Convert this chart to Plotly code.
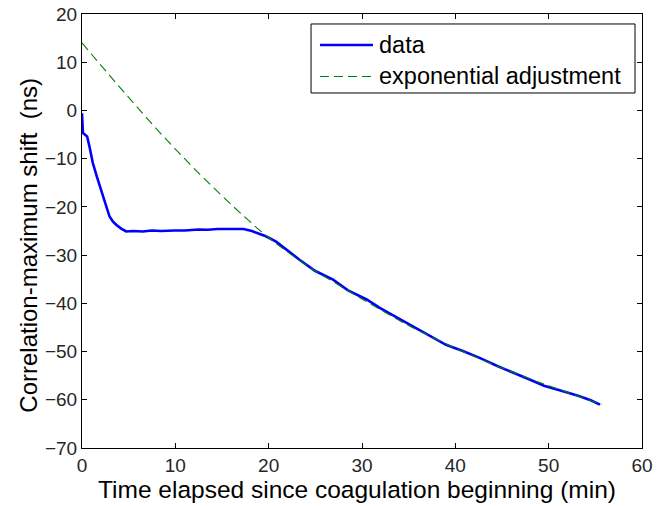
import plotly.graph_objects as go

# Blue measured data (time in min, shift in ns)
data_t = [0, 0.05, 0.1, 0.3, 0.55, 0.8, 1.16, 1.6, 2.05, 2.5, 2.95, 3.3, 3.66, 4.2, 4.73,
          5.5, 6.5, 7.5, 8.5, 9.9, 11, 12.5, 13.5, 14.5, 15.3, 16.5, 17.3, 18.2, 19.0, 19.7,
          20.8, 22, 23.3, 25, 26.9, 28.5, 30.5, 31.9, 33.8, 35.5, 37.2, 39, 40.8, 42.6,
          44.5, 46.3, 47.96, 49.5, 50.5, 52, 53.3, 54.5, 55.5]
data_y = [-0.6, -3.0, -4.7, -5.0, -5.4, -7.5, -10.9, -13.8, -16.5, -19.3, -22.0, -23.0, -23.7, -24.5, -25.1,
          -25.0, -25.1, -24.9, -25.0, -24.9, -24.9, -24.7, -24.75, -24.6, -24.6, -24.5, -24.6, -25.0, -25.6, -26.1,
          -27.2, -29.0, -30.95, -33.3, -35.1, -37.3, -39.2, -40.95, -43.0, -44.9, -46.8, -48.6, -49.9, -51.3,
          -53.0, -54.4, -55.8, -57.1, -57.6, -58.5, -59.25, -60.1, -61.0]

# Green dashed exponential adjustment
fit_t = [0, 2.5, 5, 7.5, 10, 12.5, 15, 17.5, 20, 22.5, 25, 27.5, 30, 32.5, 35, 37.5,
         40, 42.5, 45, 47.5, 50, 52.5, 55.7]
fit_y = [14, 8.3, 2.7, -2.8, -8.0, -13.0, -17.7, -22.2, -26.4, -30.0, -33.3, -36.2, -39.1, -41.9,
         -44.6, -47.0, -49.3, -51.4, -53.4, -55.3, -57.1, -58.8, -61.0]

x_ticks = [0, 10, 20, 30, 40, 50, 60]
y_ticks = [20, 10, 0, -10, -20, -30, -40, -50, -60, -70]

series_names = ["data", "exponential adjustment"]
series_colors = ["#0000ff", "#008000"]
x_title = "Time elapsed since coagulation beginning (min)"
y_title = "Correlation-maximum shift  (ns)"

FONT = "Liberation Sans, Arial, sans-serif"

fig = go.Figure()
fig.add_trace(go.Scatter(x=data_t, y=data_y, mode="lines", name=series_names[0],
                         line=dict(color=series_colors[0], width=2.6), showlegend=False))
fig.add_trace(go.Scatter(x=fit_t, y=fit_y, mode="lines", name=series_names[1],
                         line=dict(color=series_colors[1], width=1.1, dash="9px,5px"),
                         line_shape="spline", showlegend=False))

axis_common = dict(showgrid=False, zeroline=False, showline=True, linecolor="black", linewidth=1,
                   mirror="ticks", ticks="inside", ticklen=5, tickcolor="black", automargin=False,
                   ticklabeloverflow="allow",
                   tickfont=dict(family=FONT, size=19, color="#262626"))

fig.update_layout(
    width=669, height=506,
    margin=dict(l=82, r=27, t=14, b=58),
    paper_bgcolor="white", plot_bgcolor="white",
    xaxis=dict(range=[0, 60], tickvals=x_ticks, **axis_common),
    yaxis=dict(range=[-70, 20], tickvals=y_ticks, **axis_common),
    showlegend=False,
)

# Axis titles
fig.add_annotation(text=x_title, xref="paper", yref="paper", x=0.491, y=-0.095,
                   xanchor="center", yanchor="middle", showarrow=False,
                   font=dict(family=FONT, size=24.5, color="black"))
fig.add_annotation(text=y_title, xref="paper", yref="paper", x=-0.095, y=0.468,
                   xanchor="center", yanchor="middle", showarrow=False, textangle=-90,
                   font=dict(family=FONT, size=24, color="black"))

# Manual legend (box, sample lines, labels)
fig.add_shape(type="rect", xref="paper", yref="paper", x0=0.409, x1=0.9875, y0=0.818, y1=0.977,
              line=dict(color="black", width=1), fillcolor="white", layer="above")
leg_y = [0.9286, 0.856]
dashes = ["solid", "9px,5px"]
widths = [2.6, 1.1]
for i in range(2):
    fig.add_shape(type="line", xref="paper", yref="paper", x0=0.425, x1=0.5196, y0=leg_y[i], y1=leg_y[i],
                  line=dict(color=series_colors[i], width=widths[i], dash=dashes[i]), layer="above")
    fig.add_annotation(text=series_names[i], xref="paper", yref="paper", x=0.527, y=leg_y[i],
                       xanchor="left", yanchor="middle", showarrow=False,
                       font=dict(family=FONT, size=23.5, color="black"))

fig.write_html("out.html", config={"displayModeBar": False},
               post_script="document.body.style.margin='0';document.body.style.overflow='hidden';")
